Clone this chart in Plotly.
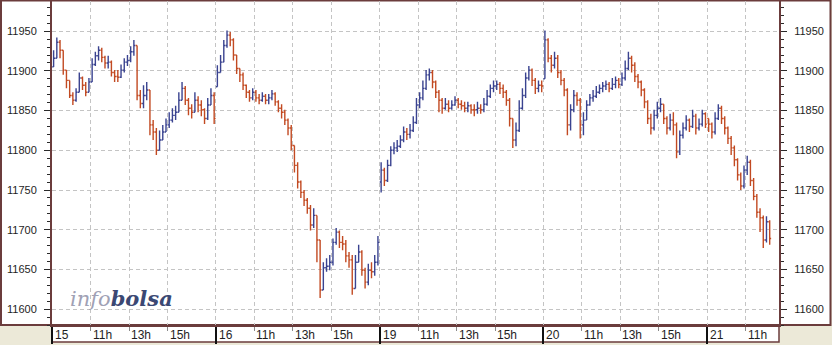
import plotly.graph_objects as go

# ---------------- data ----------------
DAY_LABELS = ["15", "16", "19", "20", "21"]
HOUR_LABELS = ["11h", "13h", "15h"]
HOUR_OFFSETS = [120, 240, 360]      # minutes after the 9:00 open
SESSION_MINUTES = 510               # 9:00 - 17:30
BAR_MINUTES = 10
X_END = 2264                        # axis end (minutes of session time)
Y_MIN, Y_MAX = 11580, 11988

DAY_OPEN = [11905, 11880, 11760, 11890, 11840]

CLOSE_15 = [11916, 11936, 11926, 11901, 11888, 11869, 11863, 11873, 11891, 11882, 11873, 11886, 11908,
            11919, 11926, 11917, 11910, 11911, 11898, 11893, 11892, 11901, 11911, 11913, 11924, 11932,
            11869, 11859, 11869, 11876, 11832, 11823, 11800, 11813, 11823, 11832, 11838, 11844, 11848,
            11863, 11878, 11863, 11853, 11848, 11863, 11857, 11851, 11840, 11857, 11869, 11840]
HIGH_15 = [11926, 11942, 11939, 11924, 11901, 11888, 11873, 11878, 11898, 11893, 11886, 11891, 11916,
           11924, 11931, 11929, 11919, 11919, 11913, 11901, 11901, 11908, 11916, 11920, 11931, 11939,
           11932, 11876, 11882, 11886, 11869, 11838, 11828, 11825, 11832, 11840, 11848, 11853, 11856,
           11873, 11886, 11881, 11866, 11858, 11873, 11868, 11863, 11853, 11866, 11878, 11873]
LOW_15 = [11911, 11920, 11916, 11895, 11878, 11866, 11857, 11861, 11873, 11876, 11868, 11873, 11886,
          11906, 11913, 11911, 11903, 11903, 11893, 11886, 11886, 11891, 11898, 11906, 11911, 11919,
          11863, 11853, 11853, 11863, 11819, 11813, 11794, 11803, 11813, 11823, 11828, 11835, 11838,
          11848, 11863, 11857, 11844, 11840, 11848, 11848, 11843, 11833, 11838, 11857, 11833]

CLOSE_16 = [11898, 11911, 11932, 11945, 11939, 11920, 11903, 11895, 11882, 11873, 11866, 11873, 11866,
            11863, 11868, 11863, 11866, 11871, 11861, 11853, 11848, 11838, 11828, 11806, 11781, 11760,
            11747, 11737, 11727, 11706, 11718, 11687, 11624, 11652, 11654, 11659, 11684, 11697, 11684,
            11682, 11667, 11662, 11626, 11659, 11672, 11649, 11634, 11649, 11647, 11659, 11684]
HIGH_16 = [11907, 11920, 11939, 11951, 11949, 11941, 11920, 11903, 11898, 11883, 11876, 11878, 11876,
           11871, 11873, 11871, 11871, 11876, 11873, 11863, 11858, 11851, 11840, 11832, 11806, 11785,
           11762, 11750, 11740, 11731, 11727, 11718, 11687, 11659, 11664, 11668, 11689, 11702, 11699,
           11692, 11687, 11672, 11668, 11668, 11681, 11674, 11652, 11657, 11659, 11668, 11692]
LOW_16 = [11888, 11898, 11913, 11929, 11931, 11913, 11896, 11886, 11876, 11866, 11861, 11863, 11861,
          11858, 11861, 11858, 11858, 11863, 11856, 11848, 11840, 11832, 11819, 11800, 11772, 11752,
          11740, 11730, 11720, 11699, 11702, 11659, 11614, 11624, 11647, 11649, 11655, 11681, 11677,
          11674, 11659, 11652, 11618, 11626, 11659, 11642, 11626, 11630, 11639, 11642, 11655]

CLOSE_19 = [11775, 11762, 11781, 11800, 11803, 11805, 11813, 11823, 11820, 11825, 11835, 11857, 11866,
            11878, 11895, 11898, 11886, 11873, 11863, 11853, 11858, 11853, 11857, 11863, 11858, 11856,
            11853, 11856, 11851, 11851, 11853, 11851, 11858, 11868, 11878, 11881, 11883, 11878, 11873,
            11863, 11840, 11813, 11825, 11853, 11869, 11891, 11901, 11888, 11878, 11882, 11881]
HIGH_19 = [11785, 11778, 11788, 11805, 11810, 11813, 11819, 11830, 11828, 11833, 11843, 11866, 11873,
           11888, 11901, 11903, 11901, 11888, 11876, 11866, 11866, 11863, 11863, 11868, 11866, 11863,
           11861, 11861, 11858, 11858, 11861, 11858, 11866, 11876, 11883, 11888, 11888, 11886, 11883,
           11876, 11866, 11840, 11835, 11863, 11878, 11898, 11906, 11903, 11891, 11888, 11888]
LOW_19 = [11747, 11755, 11760, 11780, 11795, 11798, 11803, 11810, 11813, 11815, 11823, 11833, 11853,
          11863, 11876, 11888, 11878, 11866, 11848, 11846, 11851, 11848, 11851, 11856, 11853, 11851,
          11848, 11848, 11846, 11843, 11846, 11846, 11848, 11856, 11866, 11873, 11876, 11871, 11866,
          11856, 11830, 11803, 11805, 11823, 11851, 11866, 11888, 11881, 11871, 11873, 11873]

CLOSE_20 = [11939, 11916, 11907, 11916, 11898, 11888, 11876, 11832, 11851, 11869, 11863, 11832, 11838,
            11857, 11866, 11868, 11873, 11878, 11881, 11883, 11878, 11883, 11888, 11883, 11891, 11903,
            11916, 11907, 11893, 11886, 11876, 11861, 11840, 11828, 11844, 11853, 11858, 11840, 11828,
            11838, 11832, 11798, 11819, 11828, 11838, 11830, 11843, 11828, 11833, 11846, 11833]
HIGH_20 = [11951, 11941, 11920, 11924, 11920, 11901, 11891, 11878, 11858, 11876, 11873, 11866, 11848,
           11863, 11871, 11876, 11881, 11883, 11886, 11888, 11886, 11891, 11893, 11891, 11898, 11913,
           11924, 11919, 11911, 11896, 11888, 11878, 11863, 11846, 11851, 11861, 11866, 11858, 11843,
           11846, 11848, 11835, 11825, 11835, 11844, 11840, 11851, 11846, 11840, 11851, 11848]
LOW_20 = [11901, 11911, 11898, 11903, 11891, 11882, 11868, 11819, 11825, 11848, 11856, 11815, 11819,
          11840, 11856, 11861, 11866, 11871, 11873, 11876, 11873, 11876, 11878, 11878, 11881, 11888,
          11901, 11898, 11886, 11878, 11868, 11853, 11833, 11820, 11825, 11840, 11848, 11833, 11820,
          11825, 11819, 11790, 11794, 11815, 11825, 11823, 11828, 11820, 11825, 11830, 11828]

CLOSE_21 = [11833, 11823, 11840, 11853, 11840, 11828, 11815, 11803, 11788, 11769, 11755, 11775, 11785,
            11762, 11742, 11722, 11715, 11687, 11710, 11689]
HIGH_21 = [11840, 11835, 11848, 11858, 11856, 11843, 11830, 11818, 11806, 11790, 11772, 11781, 11793,
           11788, 11765, 11745, 11727, 11718, 11717, 11712]
LOW_21 = [11823, 11815, 11820, 11838, 11833, 11820, 11808, 11794, 11780, 11762, 11750, 11752, 11769,
          11755, 11737, 11715, 11697, 11677, 11684, 11681]

CLOSES = [CLOSE_15, CLOSE_16, CLOSE_19, CLOSE_20, CLOSE_21]
HIGHS = [HIGH_15, HIGH_16, HIGH_19, HIGH_20, HIGH_21]
LOWS = [LOW_15, LOW_16, LOW_19, LOW_20, LOW_21]

# ---------------- styles ----------------
BLUE = "#3a4390"
RED = "#c24a22"
FRAME = "#6b3c3c"
GRID = "#c4c4c4"
TEXT = "#1e1e1e"
FONT = "Liberation Sans, Arial, sans-serif"

# ---------------- build bars ----------------
xs, op, hi, lo, cl = [], [], [], [], []
for d in range(len(CLOSES)):
    prev = DAY_OPEN[d]
    for i, c in enumerate(CLOSES[d]):
        xs.append(d * SESSION_MINUTES + (i + 0.5) * BAR_MINUTES)
        op.append(prev)
        cl.append(c)
        hi.append(max(HIGHS[d][i], prev, c))
        lo.append(min(LOWS[d][i], prev, c))
        prev = c

fig = go.Figure()
fig.add_trace(go.Ohlc(
    x=xs, open=op, high=hi, low=lo, close=cl,
    increasing=dict(line=dict(color=BLUE, width=1.4)),
    decreasing=dict(line=dict(color=RED, width=1.4)),
    tickwidth=0.45, hoverinfo="skip", showlegend=False,
))
# invisible helper trace so the right-hand price axis is drawn
fig.add_trace(go.Scatter(x=xs, y=cl, yaxis="y2", mode="lines",
                         line=dict(width=0, color="rgba(0,0,0,0)"),
                         hoverinfo="skip", showlegend=False))

day_starts = [d * SESSION_MINUTES for d in range(len(DAY_LABELS))]
hour_ticks = [d * SESSION_MINUTES + h for d in range(len(DAY_LABELS)) for h in HOUR_OFFSETS
              if d * SESSION_MINUTES + h < X_END]

yaxis_common = dict(
    range=[Y_MIN, Y_MAX], tickmode="linear", tick0=11600, dtick=50, tickformat="d",
    ticks="outside", ticklen=6, tickwidth=1, tickcolor="#2a2a2a", ticklabelstandoff=5,
    showline=True, linecolor=FRAME, linewidth=2, zeroline=False,
    tickfont=dict(family=FONT, size=11, color=TEXT),
    minor=dict(dtick=10, tick0=11600, ticks="outside", ticklen=3, tickcolor="#2a2a2a", showgrid=False),
)

fig.update_layout(
    width=832, height=345,
    margin=dict(l=52, r=53, t=1, b=20),
    paper_bgcolor="#ECE9D8", plot_bgcolor="white",
    showlegend=False,
    xaxis=dict(
        range=[0, X_END], rangeslider=dict(visible=False),
        tickmode="array", tickvals=day_starts, showticklabels=False,
        ticks="outside", ticklen=17, tickwidth=2, tickcolor="#111111",
        showgrid=True, gridcolor=GRID, griddash="4px,3px", gridwidth=1,
        showline=True, linecolor=FRAME, linewidth=2, zeroline=False,
        minor=dict(tickmode="array", tickvals=hour_ticks, ticks="outside", ticklen=4,
                   tickwidth=1, tickcolor="#8a8a8a",
                   showgrid=True, gridcolor=GRID, griddash="4px,3px", gridwidth=1),
    ),
    yaxis=dict(**yaxis_common, showgrid=True, gridcolor=GRID, griddash="4px,3px", gridwidth=1),
    yaxis2=dict(**yaxis_common, overlaying="y", side="right", matches="y", showgrid=False),
)

# panel frame and time band
fig.add_shape(type="rect", xref="paper", yref="paper",
              x0=-51 / 727, x1=778.5 / 727, y0=0, y1=1 + 0.5 / 324,
              fillcolor="white", line=dict(color=FRAME, width=2), layer="below")
fig.add_shape(type="rect", xref="paper", yref="paper",
              x0=0, x1=1, y0=-17 / 324, y1=0,
              fillcolor="white", line=dict(color=FRAME, width=1.5), layer="below")

# time labels
for d, lab in enumerate(DAY_LABELS):
    fig.add_annotation(x=day_starts[d], y=0, xref="x", yref="paper", text=lab,
                       xanchor="left", yanchor="top", xshift=1, yshift=-1, showarrow=False,
                       font=dict(family=FONT, size=12, color=TEXT))
for d in range(len(DAY_LABELS)):
    for h, lab in zip(HOUR_OFFSETS, HOUR_LABELS):
        xv = day_starts[d] + h
        if xv < X_END:
            fig.add_annotation(x=xv, y=0, xref="x", yref="paper", text=lab,
                               xanchor="left", yanchor="top", xshift=0, yshift=-1, showarrow=False,
                               font=dict(family=FONT, size=12, color=TEXT))

# watermark
fig.add_annotation(
    x=16 / 727, y=27 / 324, xref="paper", yref="paper", xanchor="left", yanchor="middle",
    showarrow=False,
    text='<i><span style="color:#a0a1b5">info</span></i><b><i><span style="color:#3b4873">bolsa</span></i></b>',
    font=dict(family="DejaVu Serif", size=21),
)

fig.write_html("out.html")
